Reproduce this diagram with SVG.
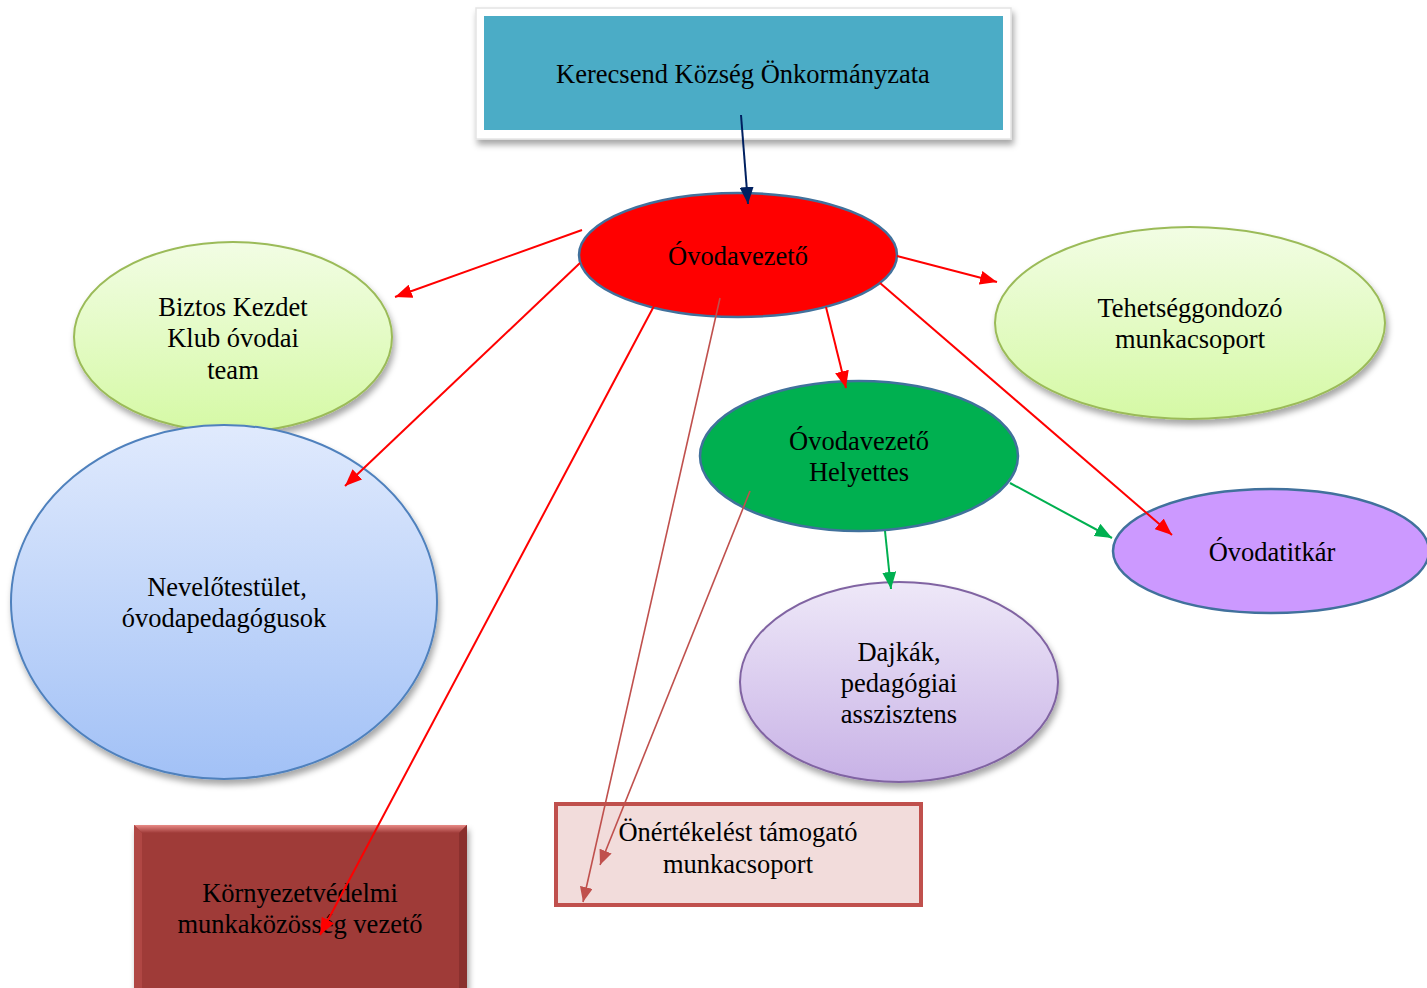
<svg xmlns="http://www.w3.org/2000/svg" width="1427" height="988" viewBox="0 0 1427 988">
<style>
text{font-family:"Liberation Serif","Times New Roman",serif;font-size:26.5px;fill:#000;text-anchor:middle}
.red{stroke:#FF0000;stroke-width:2;fill:none}
.brown{stroke:#C0504D;stroke-width:1.6;fill:none}
.green{stroke:#00B050;stroke-width:2;fill:none}
.navy{stroke:#002060;stroke-width:2;fill:none}
</style>
<defs>
<filter id="sh" x="-10%" y="-10%" width="125%" height="130%">
<feDropShadow dx="2" dy="5" stdDeviation="3" flood-color="#000" flood-opacity="0.35"/>
</filter>
<linearGradient id="gGreen" x1="0" y1="0" x2="0" y2="1">
<stop offset="0" stop-color="#F2FDE4"/><stop offset="1" stop-color="#D5F9A5"/>
</linearGradient>
<linearGradient id="gBlue" x1="0" y1="0" x2="0" y2="1">
<stop offset="0" stop-color="#E0EAFD"/><stop offset="1" stop-color="#A2C1F6"/>
</linearGradient>
<linearGradient id="gLilac" x1="0" y1="0" x2="0" y2="1">
<stop offset="0" stop-color="#EEE8F8"/><stop offset="1" stop-color="#C8B2E6"/>
</linearGradient>
<linearGradient id="gTop" x1="0" y1="0" x2="0" y2="1">
<stop offset="0" stop-color="#E88A86"/><stop offset="1" stop-color="#9F3A38"/>
</linearGradient>
<marker id="aRed" markerUnits="userSpaceOnUse" markerWidth="18" markerHeight="14" refX="17" refY="7" orient="auto"><path d="M0,0 L17,7 L0,14 z" fill="#FF0000"/></marker>
<marker id="aBrown" markerUnits="userSpaceOnUse" markerWidth="16" markerHeight="13" refX="15" refY="6.5" orient="auto"><path d="M0,0 L15,6.5 L0,13 z" fill="#C0504D"/></marker>
<marker id="aGreen" markerUnits="userSpaceOnUse" markerWidth="18" markerHeight="14" refX="17" refY="7" orient="auto"><path d="M0,0 L17,7 L0,14 z" fill="#00B050"/></marker>
<marker id="aNavy" markerUnits="userSpaceOnUse" markerWidth="18" markerHeight="14" refX="17" refY="7" orient="auto"><path d="M0,0 L17,7 L0,14 z" fill="#002060"/></marker>
</defs>
<rect width="1427" height="988" fill="#fff"/>

<g id="onkormanyzat">
<rect x="476" y="8" width="535" height="131" fill="#fff" stroke="#E4E4E4" stroke-width="1.5" filter="url(#sh)"/>
<rect x="484" y="16" width="519" height="114" fill="#4BACC6"/>
<text x="743" y="83">Kerecsend Község Önkormányzata</text>
</g>

<g id="biztos">
<ellipse cx="233" cy="337" rx="159" ry="95" fill="url(#gGreen)" stroke="#9BBB59" stroke-width="2" filter="url(#sh)"/>
<text x="233" y="316">Biztos Kezdet</text>
<text x="233" y="347">Klub óvodai</text>
<text x="233" y="379">team</text>
</g>

<g id="nevelotestulet">
<ellipse cx="224" cy="602" rx="213" ry="177" fill="url(#gBlue)" stroke="#4F81BD" stroke-width="2" filter="url(#sh)"/>
<text x="227" y="596">Nevelőtestület,</text>
<text x="224" y="627">óvodapedagógusok</text>
</g>

<g id="tehetseg">
<ellipse cx="1190" cy="323" rx="195" ry="96" fill="url(#gGreen)" stroke="#9BBB59" stroke-width="2" filter="url(#sh)"/>
<text x="1190" y="317">Tehetséggondozó</text>
<text x="1190" y="348">munkacsoport</text>
</g>

<g id="ovodavezeto">
<ellipse cx="738" cy="255" rx="159" ry="62" fill="#FF0000" stroke="#41719C" stroke-width="2.5"/>
<text x="738" y="265">Óvodavezető</text>
</g>

<g id="helyettes">
<ellipse cx="859" cy="456" rx="159" ry="75" fill="#00B050" stroke="#41719C" stroke-width="2.5"/>
<text x="859" y="450">Óvodavezető</text>
<text x="859" y="481">Helyettes</text>
</g>

<g id="titkar">
<ellipse cx="1271" cy="551" rx="158" ry="62" fill="#CC99FF" stroke="#41719C" stroke-width="2.5"/>
<text x="1272" y="561">Óvodatitkár</text>
</g>

<g id="dajkak">
<ellipse cx="899" cy="682" rx="159" ry="100" fill="url(#gLilac)" stroke="#8064A2" stroke-width="2" filter="url(#sh)"/>
<text x="899" y="661">Dajkák,</text>
<text x="899" y="692">pedagógiai</text>
<text x="899" y="723">asszisztens</text>
</g>

<g id="onertekeles">
<rect x="556" y="804" width="365" height="101" fill="#F2DCDB" stroke="#C0504D" stroke-width="4"/>
<text x="738" y="841">Önértékelést támogató</text>
<text x="738" y="873">munkacsoport</text>
</g>

<g id="kornyezet">
<rect x="134" y="825" width="333" height="170" fill="#9F3A38" filter="url(#sh)"/>
<polygon points="134,825 467,825 459,833 142,833" fill="url(#gTop)"/>
<polygon points="134,825 142,833 142,995 134,995" fill="#B04744"/>
<polygon points="467,825 459,833 459,995 467,995" fill="#8A302E"/>
<text x="300" y="902">Környezetvédelmi</text>
<text x="300" y="933">munkaközösség vezető</text>
</g>

<g id="connectors">
<line class="navy" x1="741" y1="115" x2="748" y2="204" marker-end="url(#aNavy)"/>
<line class="red" x1="582" y1="230" x2="395" y2="297" marker-end="url(#aRed)"/>
<line class="red" x1="580" y1="263" x2="345" y2="486" marker-end="url(#aRed)"/>
<line class="red" x1="654" y1="306" x2="320" y2="935" marker-end="url(#aRed)"/>
<line class="red" x1="897" y1="256" x2="997" y2="282" marker-end="url(#aRed)"/>
<line class="red" x1="826" y1="307" x2="846" y2="388" marker-end="url(#aRed)"/>
<line class="red" x1="880" y1="283" x2="1172" y2="535" marker-end="url(#aRed)"/>
<line class="brown" x1="720" y1="298" x2="583" y2="902" marker-end="url(#aBrown)"/>
<line class="brown" x1="750" y1="491" x2="600" y2="865" marker-end="url(#aBrown)"/>
<line class="green" x1="1010" y1="483" x2="1112" y2="538" marker-end="url(#aGreen)"/>
<line class="green" x1="885" y1="531" x2="891" y2="589" marker-end="url(#aGreen)"/>
</g>
</svg>
